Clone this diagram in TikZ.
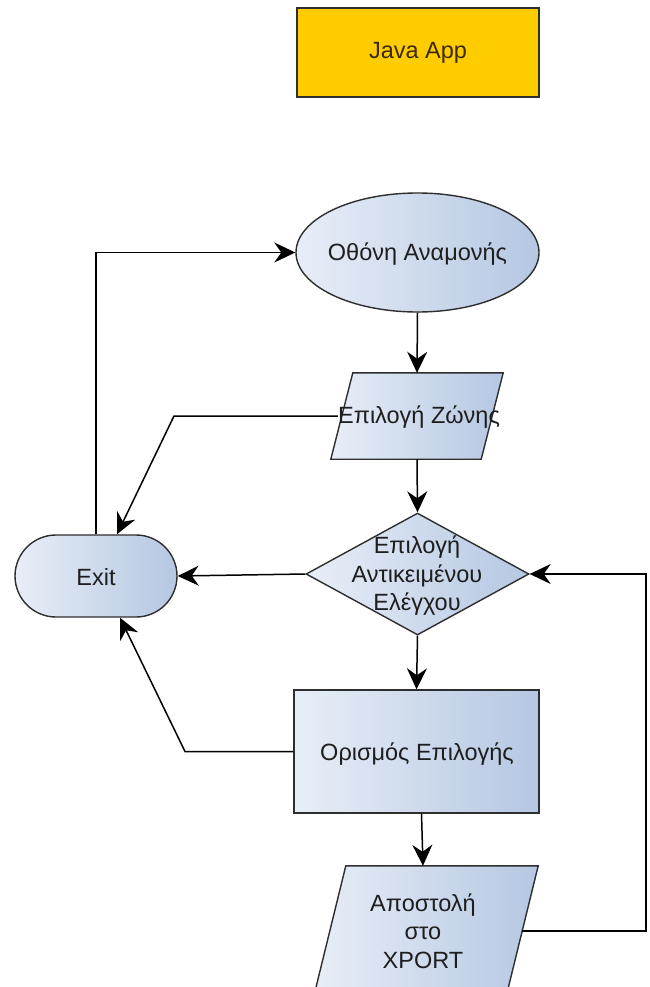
\documentclass[tikz,border=0pt]{standalone}
\usepackage{fontspec}
\setmainfont{Liberation Sans}
\usetikzlibrary{shapes.geometric,arrows.meta}
\definecolor{lightfill}{HTML}{E8EEF7}
\definecolor{darkfill}{HTML}{B5C7E2}
\definecolor{edgegray}{HTML}{2E2E2E}
\definecolor{labelink}{HTML}{1E1E1E}
\definecolor{javagold}{HTML}{FFCC00}
\definecolor{javaink}{HTML}{3D2A00}
\tikzset{
  flowfill/.style={draw=edgegray, line width=1.4pt, left color=lightfill, right color=darkfill},
  lbl/.style={font=\fontsize{23.5}{28.5}\selectfont, text=labelink, align=center, inner sep=0pt},
  conn/.style={draw=black, line width=1.5pt, -{Stealth[length=21pt,width=20pt,inset=7pt]}},
  ghost/.style={draw=none, inner sep=0pt, rectangle},
}
\begin{document}
\begin{tikzpicture}[x=1pt,y=-1pt]
\clip (0,0) rectangle (649,987);
\fill[white] (0,0) rectangle (649,987);

% Java App
\node[draw=edgegray, line width=1.6pt, fill=javagold, minimum width=242pt, minimum height=89pt,
      inner sep=0pt, font=\fontsize{23.5}{28.5}\selectfont, text=javaink] (java) at (418,52.5) {Java App};

% shapes
\node[ellipse, flowfill, minimum width=243pt, minimum height=119pt, inner sep=0pt] (wait) at (417.5,252.5) {};

\node[ghost, minimum width=150pt, minimum height=86pt] (zone) at (417,416) {};
\path[flowfill] ([xshift=11pt]zone.north west) -- ([xshift=11pt]zone.north east)
  -- ([xshift=-11pt]zone.south east) -- ([xshift=-11pt]zone.south west) -- cycle;

\node[diamond, flowfill, minimum width=223pt, minimum height=122pt, inner sep=0pt] (dec) at (417.5,574) {};

\node[rectangle, flowfill, minimum width=245pt, minimum height=123pt, inner sep=0pt] (opt) at (416.5,751.5) {};

\node[ghost, minimum width=192pt, minimum height=130pt] (apost) at (426,931) {};
\path[flowfill] ([xshift=16pt]apost.north west) -- ([xshift=16pt]apost.north east)
  -- ([xshift=-16pt]apost.south east) -- ([xshift=-16pt]apost.south west) -- cycle;

\node[rectangle, flowfill, rounded corners=41pt, minimum width=162pt, minimum height=82pt, inner sep=0pt] (exit) at (96,576) {};

% connectors
\coordinate (bendA) at (174,417);
\coordinate (bendB) at (185,751);
\coordinate (railR) at (646,576);

\draw[conn] (exit.north) -- (exit.north |- wait.west) -- (wait.west);
\draw[conn] (wait.south) -- (zone.north);
\draw[conn] ([xshift=-4pt]zone.west) -- (bendA |- zone.west) -- ([xshift=21pt]exit.north);
\draw[conn] (zone.south) -- (dec.north);
\draw[conn] (dec.west) -- (exit.east);
\draw[conn] (dec.south) -- (opt.north);
\draw[conn] (opt.west) -- (bendB |- opt.west) -- ([xshift=24pt]exit.south);
\draw[conn] ([xshift=5pt]opt.south) -- ([xshift=-3pt]apost.north);
\draw[conn] (apost.east) -- (railR |- apost.east) -- (railR |- dec.east) -- (dec.east);

% labels
\node[lbl] (waittxt) at (417.5,254) {Οθόνη Αναμονής};
\node[lbl] (zonetxt) at (419,417) {Επιλογή Ζώνης};
\node[lbl] (dectxt) at (417,576) {Επιλογή\\Αντικειμένου\\Ελέγχου};
\node[lbl] (opttxt) at (417,754) {Ορισμός Επιλογής};
\node[lbl] (aposttxt) at (423,931) {Αποστολή\\στο\\XPORT};
\node[lbl] (exittxt) at (96,577) {Exit};
\end{tikzpicture}
\end{document}
